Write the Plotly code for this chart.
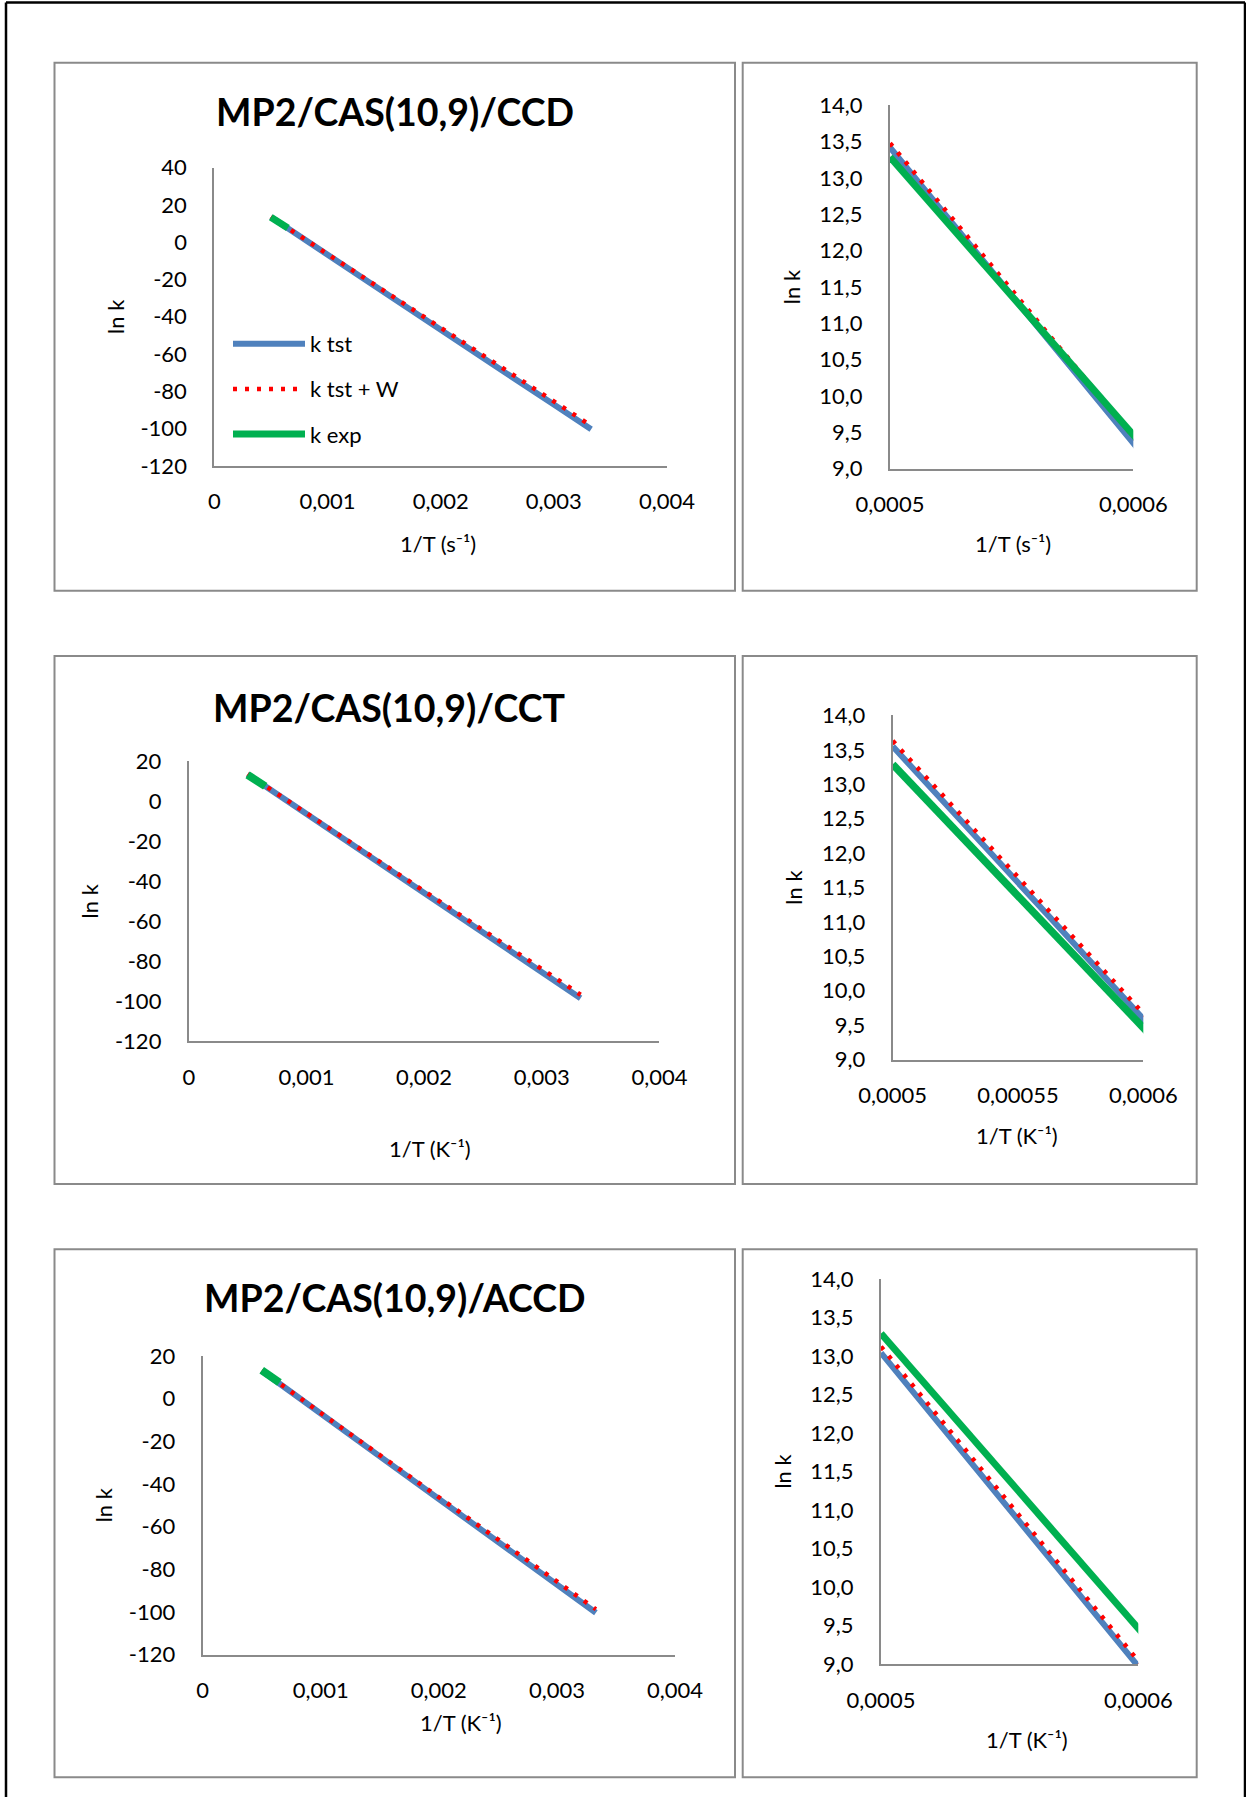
import plotly.graph_objects as go

W, H = 1246, 1797

# ---------------- data ----------------
x_tst = [0.0005, 0.00055, 0.0006, 0.0007, 0.0008, 0.001, 0.0015, 0.002, 0.0025, 0.003, 0.00333]
x_exp = [0.0005, 0.00055, 0.0006, 0.00065]

ccd_tst = [13.42, 11.38, 9.34, 5.28, 1.22, -6.86, -26.95, -47.0, -67.1, -87.1, -100.3]
ccd_tstw = [13.48, 11.46, 9.44, 5.49, 1.54, -6.36, -26.1, -45.9, -65.6, -85.4, -98.4]
cct_tst = [13.55, 11.57, 9.58, 5.62, 1.66, -6.26, -26.05, -45.85, -65.64, -85.44, -98.5]
cct_tstw = [13.63, 11.65, 9.67, 5.77, 1.87, -5.93, -25.43, -44.93, -64.43, -83.93, -96.8]
accd_tst = [13.04, 11.0, 8.97, 4.96, 0.96, -7.05, -27.08, -47.11, -67.14, -87.17, -100.4]
accd_tstw = [13.12, 11.08, 9.04, 5.09, 1.14, -6.76, -26.51, -46.26, -66.01, -85.76, -98.8]
k_exp = [13.29, 11.37, 9.46, 7.55]

series_names = ["k tst", "k tst + W", "k exp"]
titles = ["MP2/CAS(10,9)/CCD", "MP2/CAS(10,9)/CCT", "MP2/CAS(10,9)/ACCD"]
xtitle_s = "1/T (s\u207b\u00b9)"
xtitle_k = "1/T (K\u207b\u00b9)"
ytitle = "ln k"

# tick labels
full_x_vals = [0, 0.001, 0.002, 0.003, 0.004]
full_x_text = ["0", "0,001", "0,002", "0,003", "0,004"]
y40_vals = [-120, -100, -80, -60, -40, -20, 0, 20, 40]
y40_text = ["-120", "-100", "-80", "-60", "-40", "-20", "0", "20", "40"]
y20_vals = [-120, -100, -80, -60, -40, -20, 0, 20]
y20_text = ["-120", "-100", "-80", "-60", "-40", "-20", "0", "20"]
zoom_y_vals = [9.0, 9.5, 10.0, 10.5, 11.0, 11.5, 12.0, 12.5, 13.0, 13.5, 14.0]
zoom_y_text = ["9,0", "9,5", "10,0", "10,5", "11,0", "11,5", "12,0", "12,5", "13,0", "13,5", "14,0"]
zoom_x2_vals = [0.0005, 0.0006]
zoom_x2_text = ["0,0005", "0,0006"]
zoom_x3_vals = [0.0005, 0.00055, 0.0006]
zoom_x3_text = ["0,0005", "0,00055", "0,0006"]

# ---------------- styles ----------------
BLUE = "#4F81BD"
RED = "#FF0000"
GREEN = "#00B050"
GRAY = "#8a8a8a"
FONT = "Lato"


def px(x):
    return x / W


def py(y):
    return 1 - y / H


fig = go.Figure()

panels = [
    dict(box=(214.3, 167.5, 667.0, 466.0), tst=ccd_tst, tstw=ccd_tstw, xr=[0, 0.004], yr=[-120, 40],
         xv=full_x_vals, xt=full_x_text, yv=y40_vals, yt=y40_text, legend=True,
         xtitle=(438.4, 543.6, xtitle_s), ystand=10, gw=7),
    dict(box=(890.0, 105.4, 1133.3, 468.6), tst=ccd_tst, tstw=ccd_tstw, xr=[0.0005, 0.0006], yr=[9, 14],
         xv=zoom_x2_vals, xt=zoom_x2_text, yv=zoom_y_vals, yt=zoom_y_text, legend=False,
         xtitle=(1013.3, 543.6, xtitle_s), ystand=13, gw=7),
    dict(box=(188.8, 761.4, 659.4, 1041.1), tst=cct_tst, tstw=cct_tstw, xr=[0, 0.004], yr=[-120, 20],
         xv=full_x_vals, xt=full_x_text, yv=y20_vals, yt=y20_text, legend=False,
         xtitle=(429.5, 1148.2, xtitle_k), ystand=10, gw=8),
    dict(box=(892.7, 715.4, 1143.3, 1059.6), tst=cct_tst, tstw=cct_tstw, xr=[0.0005, 0.0006], yr=[9, 14],
         xv=zoom_x3_vals, xt=zoom_x3_text, yv=zoom_y_vals, yt=zoom_y_text, legend=False,
         xtitle=(1016.7, 1135.7, xtitle_k), ystand=13, gw=7.5),
    dict(box=(202.7, 1355.9, 675.0, 1654.5), tst=accd_tst, tstw=accd_tstw, xr=[0, 0.004], yr=[-120, 20],
         xv=full_x_vals, xt=full_x_text, yv=y20_vals, yt=y20_text, legend=False,
         xtitle=(460.7, 1722.3, xtitle_k), ystand=10, gw=8),
    dict(box=(881.0, 1278.8, 1138.3, 1664.1), tst=accd_tst, tstw=accd_tstw, xr=[0.0005, 0.0006], yr=[9, 14],
         xv=zoom_x2_vals, xt=zoom_x2_text, yv=zoom_y_vals, yt=zoom_y_text, legend=False,
         xtitle=(1026.7, 1739.5, xtitle_k), ystand=13, gw=7),
]

annotations = []
layout_axes = {}
for i, p in enumerate(panels, start=1):
    xa = "x" if i == 1 else f"x{i}"
    ya = "y" if i == 1 else f"y{i}"
    fig.add_trace(go.Scatter(x=x_tst, y=p["tst"], mode="lines", name=series_names[0],
                             line=dict(color=BLUE, width=6), xaxis=xa, yaxis=ya,
                             showlegend=p["legend"], legendgroup="g1"))
    fig.add_trace(go.Scatter(x=x_tst, y=p["tstw"], mode="lines", name=series_names[1],
                             line=dict(color=RED, width=4.5, dash="4px,8px"), xaxis=xa, yaxis=ya,
                             showlegend=p["legend"], legendgroup="g2"))
    fig.add_trace(go.Scatter(x=x_exp, y=k_exp, mode="lines", name=series_names[2],
                             line=dict(color=GREEN, width=p["gw"]), xaxis=xa, yaxis=ya,
                             showlegend=p["legend"], legendgroup="g3"))
    l, t, r, b = p["box"]
    common = dict(showline=True, linecolor=GRAY, linewidth=2, showgrid=False, zeroline=False,
                  ticks="", tickfont=dict(family=FONT, size=22, color="black"), fixedrange=True,
                  tickmode="array", automargin=False)
    xkey = "xaxis" if i == 1 else f"xaxis{i}"
    ykey = "yaxis" if i == 1 else f"yaxis{i}"
    layout_axes[xkey] = dict(common, domain=[px(l), px(r)], range=p["xr"], anchor=ya,
                             tickvals=p["xv"], ticktext=p["xt"], ticklabelstandoff=15)
    layout_axes[ykey] = dict(common, domain=[py(b), py(t)], range=p["yr"], anchor=xa,
                             tickvals=p["yv"], ticktext=p["yt"], ticklabelstandoff=21,
                             title=dict(text=ytitle, standoff=p["ystand"],
                                        font=dict(family=FONT, size=22, color="black")))
    xx, xy, xtxt = p["xtitle"]
    annotations.append(dict(x=px(xx), y=py(xy), xref="paper", yref="paper", text=xtxt,
                            showarrow=False, xanchor="center", yanchor="middle",
                            font=dict(family=FONT, size=22, color="black")))

for (tx, ty), txt in zip([(394.9, 111.4), (389.3, 707.1), (394.6, 1297.7)], titles):
    annotations.append(dict(x=px(tx), y=py(ty), xref="paper", yref="paper", text=txt,
                            showarrow=False, xanchor="center", yanchor="middle",
                            font=dict(family=FONT, size=37.5, color="black", weight=700)))

shapes = []
for (l, t, r, b) in [(54.5, 62.7, 735, 590.7), (742.7, 62.7, 1196.7, 590.7),
                     (54.5, 656, 735, 1184), (742.7, 656, 1196.7, 1184),
                     (54.5, 1249.3, 735, 1777.3), (742.7, 1249.3, 1196.7, 1777.3)]:
    shapes.append(dict(type="rect", xref="paper", yref="paper", x0=px(l), x1=px(r), y0=py(b), y1=py(t),
                       line=dict(color=GRAY, width=2), fillcolor="rgba(0,0,0,0)"))
shapes.append(dict(type="line", xref="paper", yref="paper", x0=px(6), x1=px(6), y0=0, y1=py(2.5),
                   line=dict(color="black", width=2.5)))
shapes.append(dict(type="line", xref="paper", yref="paper", x0=px(6), x1=px(1245), y0=py(2.5), y1=py(2.5),
                   line=dict(color="black", width=2.5)))
shapes.append(dict(type="line", xref="paper", yref="paper", x0=px(1245), x1=px(1245), y0=0, y1=py(2.5),
                   line=dict(color="black", width=2.5)))

fig.update_layout(
    template="none",
    width=W, height=H, autosize=False,
    margin=dict(l=0, r=0, t=0, b=0, pad=0, autoexpand=False),
    paper_bgcolor="white", plot_bgcolor="white",
    separators=", ",
    showlegend=True,
    legend=dict(x=px(228), y=py(323), xanchor="left", yanchor="top",
                font=dict(family=FONT, size=22, color="black"),
                bgcolor="rgba(0,0,0,0)", borderwidth=0, traceorder="grouped", tracegroupgap=13.5,
                itemwidth=72),
    annotations=annotations,
    shapes=shapes,
    **layout_axes,
)

fig.write_html("out.html", config={"displayModeBar": False},
               post_script="document.body.style.margin='0px';")
